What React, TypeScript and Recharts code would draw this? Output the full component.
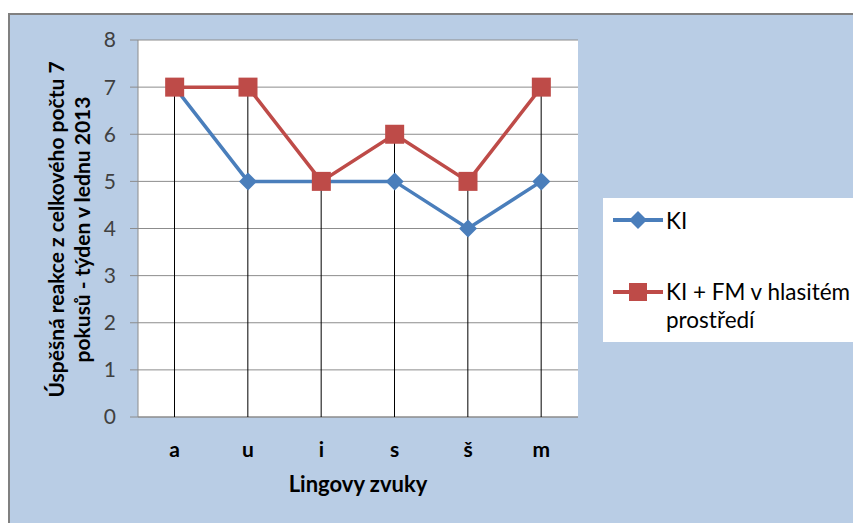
import { ComposedChart, Line, Bar, XAxis, YAxis, CartesianGrid, Legend, Label } from "recharts";

const categories = ["a", "u", "i", "s", "š", "m"];
const kiValues = [7, 5, 5, 5, 4, 5];
const fmValues = [7, 7, 5, 6, 5, 7];
const yTicks = [0, 1, 2, 3, 4, 5, 6, 7, 8];

const kiName = "KI";
const fmLines = ["KI + FM v hlasitém", "prostředí"];
const fmName = fmLines.join(" ");
const yTitle = ["Úspěšná reakce z celkového počtu 7", "pokusů - týden v lednu 2013"];
const xTitle = "Lingovy zvuky";

const BLUE = "#4A7EBB";
const RED = "#BE4B48";
const GRID = "#8c8c8c";
const FONT = "Lato, 'Open Sans', sans-serif";

const data = categories.map((c, i) => ({
  cat: c,
  ki: kiValues[i],
  fm: fmValues[i],
  drop: Math.max(kiValues[i], fmValues[i]),
}));

const Diamond = (props: any) => {
  const { cx, cy, index } = props;
  const r = 9;
  return (
    <polygon
      key={"d" + index}
      points={`${cx},${cy - r} ${cx + r},${cy} ${cx},${cy + r} ${cx - r},${cy}`}
      fill={BLUE}
    />
  );
};

const Square = (props: any) => {
  const { cx, cy, index } = props;
  const s = 19;
  return <rect key={"s" + index} x={cx - s / 2} y={cy - s / 2} width={s} height={s} fill={RED} />;
};

const YTitle = (props: any) => {
  const { viewBox } = props;
  const cy = viewBox.y + viewBox.height / 2 + 1;
  const xs = [54, 80];
  return (
    <g>
      {yTitle.map((t, i) => (
        <text
          key={i}
          x={xs[i]}
          y={cy}
          transform={`rotate(-90, ${xs[i]}, ${cy})`}
          textAnchor="middle"
          fontFamily={FONT}
          fontWeight="bold"
          fontSize={21}
          fill="#000"
        >
          {t}
        </text>
      ))}
    </g>
  );
};

const LegendBox = () => (
  <div
    style={{
      width: 250,
      height: 144,
      background: "#fff",
      position: "relative",
      fontFamily: FONT,
      fontSize: 22.5,
      color: "#000",
    }}
  >
    <div style={{ position: "absolute", left: 10, top: 8, display: "flex", alignItems: "center" }}>
      <svg width={50} height={28}>
        <line x1={0} y1={14} x2={50} y2={14} stroke={BLUE} strokeWidth={4} />
        <polygon points="25,5 34,14 25,23 16,14" fill={BLUE} />
      </svg>
      <span style={{ marginLeft: 3 }}>{kiName}</span>
    </div>
    <div style={{ position: "absolute", left: 10, top: 80, display: "flex", alignItems: "flex-start" }}>
      <svg width={50} height={28} style={{ flex: "none" }}>
        <line x1={0} y1={14} x2={50} y2={14} stroke={RED} strokeWidth={4} />
        <rect x={16} y={5} width={18} height={18} fill={RED} />
      </svg>
      <div style={{ marginLeft: 3, lineHeight: "28px", whiteSpace: "nowrap" }}>
        {fmLines.map((l, i) => (
          <div key={i}>{l}</div>
        ))}
      </div>
    </div>
  </div>
);

export default function App() {
  return (
    <div
      style={{
        position: "fixed",
        left: 8,
        top: 13,
        width: 845,
        height: 510,
        background: "#B9CDE5",
        borderTop: "2px solid #808080",
        borderLeft: "2px solid #808080",
        boxSizing: "border-box",
      }}
    >
      <ComposedChart
        width={843}
        height={508}
        data={data}
        margin={{ top: 25, right: 275, bottom: 26, left: 68 }}
      >
        <CartesianGrid stroke={GRID} fill="#fff" vertical={false} />
        <XAxis
          dataKey="cat"
          height={80}
          tickSize={0}
          tickLine={false}
          tickMargin={25}
          stroke={GRID}
          tick={{ fill: "#000", fontFamily: FONT, fontWeight: "bold", fontSize: 21 }}
        >
          <Label
            value={xTitle}
            position="insideBottom"
            offset={5}
            fill="#000"
            fontFamily={FONT}
            fontWeight="bold"
            fontSize={22}
          />
        </XAxis>
        <YAxis
          width={60}
          domain={[0, 8]}
          ticks={yTicks}
          interval={0}
          tickSize={8}
          tickMargin={14}
          stroke={GRID}
          tick={{ fill: "#404040", fontFamily: FONT, fontSize: 21 }}
        >
          <Label content={YTitle} />
        </YAxis>
        <Legend
          layout="horizontal"
          verticalAlign="middle"
          align="center"
          wrapperStyle={{ left: 593, top: 183, width: 250, height: 144 }}
          content={LegendBox}
        />
        <Line
          dataKey="ki"
          name={kiName}
          stroke={BLUE}
          strokeWidth={3.5}
          dot={Diamond}
          activeDot={false}
          isAnimationActive={false}
        />
        <Line
          dataKey="fm"
          name={fmName}
          stroke={RED}
          strokeWidth={3.5}
          dot={Square}
          activeDot={false}
          isAnimationActive={false}
        />
        <Bar dataKey="drop" barSize={1} fill="#000" legendType="none" isAnimationActive={false} {...({ zIndex: 500 } as any)} />
      </ComposedChart>
    </div>
  );
}
